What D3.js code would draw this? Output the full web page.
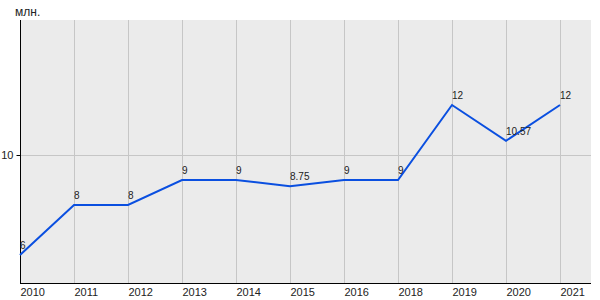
<!DOCTYPE html>
<html>
<head>
<meta charset="utf-8">
<script src="https://cdn.jsdelivr.net/npm/d3@7"></script>
<style>
body { margin: 0; background: #fff; }
text { font-family: "Liberation Sans", Arial, sans-serif; fill: #222; }
</style>
</head>
<body>
<div class="container"></div>
<script>
const years  = ["2010","2011","2012","2013","2014","2015","2016","2018","2019","2020","2021"];
const values = [6, 8, 8, 9, 9, 8.75, 9, 9, 12, 10.57, 12];
const labels = ["6","8","8","9","9","8.75","9","9","12","10.57","12"];
const yTicks = [10];

const LEFT = 20, RIGHT = 591, TOP = 20, BOTTOM = 283;

var svg = d3.select(".container").append("svg")
    .attr("width", 600)
    .attr("height", 300);

var x = d3.scalePoint()
    .domain(years)
    .range([LEFT, 560]);

var y = d3.scaleLinear()
    .domain([4.88, 15.4])
    .range([BOTTOM, TOP]);

// plot background
svg.append("rect")
    .attr("x", LEFT).attr("y", TOP)
    .attr("width", RIGHT - LEFT).attr("height", BOTTOM - TOP)
    .attr("fill", "#ebebeb");

// vertical grid
svg.append("g").selectAll("line")
    .data(years.slice(1))
    .join("line")
    .attr("x1", d => x(d) + 0.5).attr("x2", d => x(d) + 0.5)
    .attr("y1", TOP).attr("y2", BOTTOM)
    .attr("stroke", "#c6c6c6");

// horizontal grid
svg.append("g").selectAll("line")
    .data(yTicks)
    .join("line")
    .attr("x1", LEFT).attr("x2", RIGHT)
    .attr("y1", d => Math.round(y(d)) + 0.5).attr("y2", d => Math.round(y(d)) + 0.5)
    .attr("stroke", "#c6c6c6");

// y axis
var yAxis = svg.append("g")
    .attr("transform", "translate(" + (LEFT + 0.5) + ",0)")
    .call(d3.axisLeft(y).tickValues(yTicks).tickSize(4).tickPadding(3).tickSizeOuter(0));
yAxis.select(".domain").attr("stroke", "#000").attr("d", "M0," + TOP + "V" + BOTTOM);
yAxis.selectAll("text").style("font-size", "11px").attr("font-family", null);

// x axis
var xAxis = svg.append("g")
    .attr("transform", "translate(0," + (BOTTOM + 0.5) + ")")
    .call(d3.axisBottom(x).tickSize(0).tickPadding(5));
xAxis.select(".domain").attr("stroke", "#000").attr("d", "M" + LEFT + ",0H" + RIGHT);
xAxis.selectAll("text")
    .attr("text-anchor", "start")
    .attr("dy", "0.71em")
    .style("font-size", "11px").attr("font-family", null);

// line
var line = d3.line()
    .x((d, i) => x(years[i]))
    .y(d => y(d));

svg.append("path")
    .datum(values)
    .attr("d", line)
    .attr("fill", "none")
    .attr("stroke", "#0a4fe0")
    .attr("stroke-width", 2);

// value labels
svg.append("g").selectAll("text")
    .data(values)
    .join("text")
    .attr("x", (d, i) => x(years[i]))
    .attr("y", d => y(d) - 6)
    .style("font-size", "10px")
    .text((d, i) => labels[i]);

// unit
svg.append("text")
    .attr("x", 15).attr("y", 16)
    .style("font-size", "12px")
    .text("млн.");
</script>
</body>
</html>
